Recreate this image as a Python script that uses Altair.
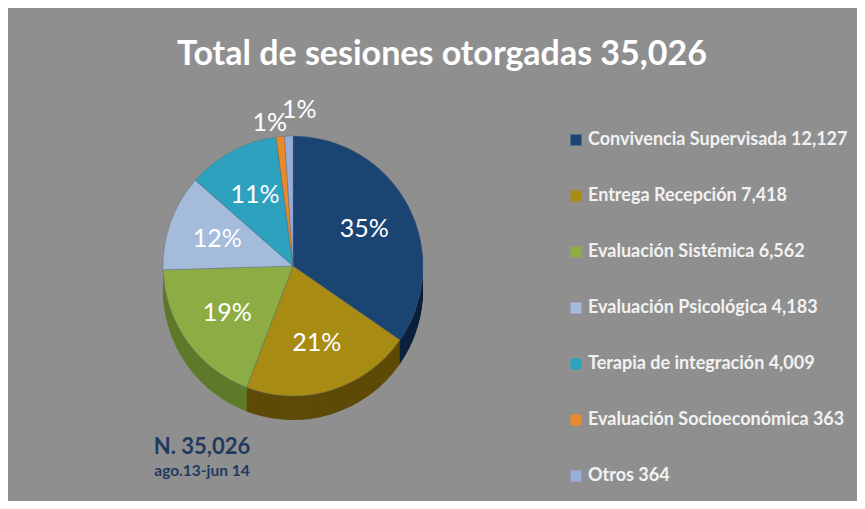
import altair as alt
import pandas as pd

# ---- data ----
categories = ["Convivencia Supervisada", "Entrega Recepción", "Evaluación Sistémica",
              "Evaluación Psicológica", "Terapia de integración", "Evaluación Socioeconómica", "Otros"]
values = [12127, 7418, 6562, 4183, 4009, 363, 364]
title_text = "Total de sesiones otorgadas 35,026"
note_main = "N. 35,026"
note_sub = "ago.13-jun 14"

# ---- styles ----
top_colors = ["#1A4472", "#A88B12", "#8DAD44", "#A4BBDC", "#2CA2BF", "#E8892A", "#97ADDA"]
side_colors = ["#0B213D", "#5E4B07", "#5F7A2B", "#6F88AA", "#1B6F85", "#A65914", "#6A7FA8"]
FONT = "Lato"
W, H = 849, 493
CX, CY, R, DEPTH = 285, 258, 130, 24

labels = [f"{c} {v:,}" for c, v in zip(categories, values)]
df = pd.DataFrame({"label": labels, "cat": categories, "value": values, "idx": list(range(len(values)))})

base = alt.Chart(df).transform_joinaggregate(total="sum(value)").transform_calculate(
    pct="datum.value / datum.total"
)

theta = alt.Theta("value:Q", stack=True)
order = alt.Order("idx:Q")

layers = []
for k in range(DEPTH, 0, -1):
    layers.append(
        base.mark_arc(radius=R, stroke=None).encode(
            theta=theta, order=order,
            color=alt.Color("label:N", scale=alt.Scale(domain=labels, range=side_colors), legend=None),
            x=alt.value(CX), y=alt.value(CY + k),
        )
    )

top = base.mark_arc(radius=R, stroke="#5a6a7a", strokeWidth=0.4).encode(
    theta=theta, order=order,
    color=alt.Color(
        "label:N", scale=alt.Scale(domain=labels, range=top_colors),
        legend=alt.Legend(
            orient="none", legendX=559, legendY=123, title=None, symbolType="square",
            symbolSize=121, symbolStrokeWidth=0, labelFont=FONT, labelFontSize=18,
            labelFontWeight="bold", labelColor="#F2F2F2", rowPadding=38, labelOffset=3,
            padding=0, labelLimit=400,
        ),
    ),
    x=alt.value(CX), y=alt.value(CY),
)
layers.append(top)

big_lbl = base.transform_filter("datum.pct >= 0.02").mark_text(
    radius=R * 0.62, font=FONT, fontSize=25, color="white"
).encode(theta=theta, order=order, text=alt.Text("pct:Q", format=".0%"),
         x=alt.value(CX), y=alt.value(CY))

small_l = base.mark_text(radius=R + 14, font=FONT, fontSize=25, color="white", align="right", dx=8
).encode(theta=theta, order=order, text=alt.Text("pct:Q", format=".0%"),
         x=alt.value(CX), y=alt.value(CY),
         opacity=alt.condition("datum.idx == 5", alt.value(1), alt.value(0)))

small_r = base.mark_text(radius=R + 26, font=FONT, fontSize=25, color="white", align="left", dx=-6
).encode(theta=theta, order=order, text=alt.Text("pct:Q", format=".0%"),
         x=alt.value(CX), y=alt.value(CY),
         opacity=alt.condition("datum.idx == 6", alt.value(1), alt.value(0)))

title = alt.Chart(pd.DataFrame({"t": [title_text]})).mark_text(
    font=FONT, fontSize=34, fontWeight="bold", color="white"
).encode(text="t:N", x=alt.value(434), y=alt.value(47))

n1 = alt.Chart(pd.DataFrame({"t": [note_main]})).mark_text(
    font=FONT, fontSize=22, fontWeight="bold", color="#1F3A5F"
).encode(text="t:N", x=alt.value(194), y=alt.value(439))

n2 = alt.Chart(pd.DataFrame({"t": [note_sub]})).mark_text(
    font=FONT, fontSize=15.5, fontWeight="bold", color="#1F3A5F"
).encode(text="t:N", x=alt.value(194), y=alt.value(463))

chart = alt.layer(*layers, big_lbl, small_l, small_r, title, n1, n2).resolve_scale(
    color="independent"
).properties(
    width=W, height=H, background="#8F8F8F", padding=0,
    autosize=alt.AutoSizeParams(type="none"),
).configure_view(stroke=None)

chart.save("out.html", embed_options={"renderer": "svg", "actions": False})
